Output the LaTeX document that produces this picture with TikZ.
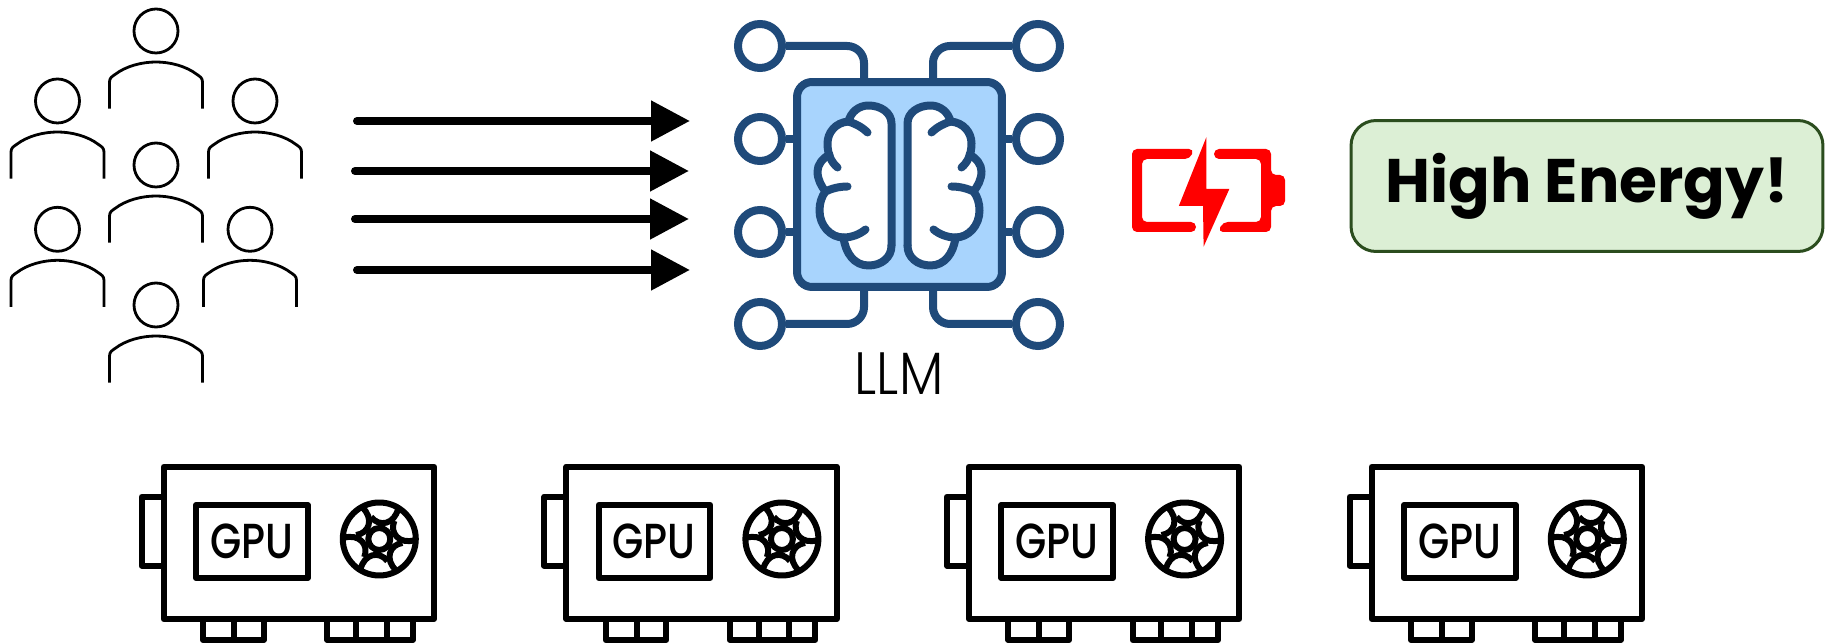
\documentclass[tikz,border=0pt]{standalone}
\usepackage{fontspec}
\setmainfont{Poppins}
\usetikzlibrary{arrows.meta, positioning, calc}
\definecolor{navy}{HTML}{1F4A7A}
\definecolor{chipblue}{HTML}{A8D4FD}
\definecolor{leaf}{HTML}{DCEFD5}
\definecolor{leafline}{HTML}{2B4D1E}
\tikzstyle{chip} = [rectangle, rounded corners=0.3cm, minimum size=4.1cm, inner sep=0, line width=0.16cm, draw=navy, fill=chipblue]
\tikzstyle{pad} = [circle, minimum size=0.88cm, inner sep=0, line width=0.16cm, draw=navy]
\tikzstyle{wire} = [line width=0.16cm, draw=navy, rounded corners=0.34cm]
\tikzstyle{brainline} = [line width=0.16cm, draw=navy, line cap=round, line join=round]
\tikzstyle{personline} = [line width=0.056cm, draw=black]
\tikzstyle{gpuline} = [line width=0.12cm, draw=black, line join=round]
\tikzstyle{request} = [line width=0.16cm, line cap=round, -{Triangle[length=0.78cm,width=0.78cm]}]
\tikzstyle{energy} = [rectangle, rounded corners=0.5cm, minimum width=9.44cm, minimum height=2.62cm, draw=leafline, fill=leaf, line width=0.06cm, font=\fontsize{35}{40}\selectfont\bfseries]
\tikzset{
    person/.pic={
        \draw[personline] (0,0) circle (22);
        \draw[personline] (-46.5,77.6) -- (-46.5,51) .. controls (-46.5,47) and (-44,45.5) .. (-41,43.5)
            .. controls (-30,35) and (-14,31) .. (0,31) .. controls (14,31) and (30,35) .. (41,43.5)
            .. controls (44,45.5) and (46.5,47) .. (46.5,51) -- (46.5,77.6);
    },
    lobe/.pic={
        \fill[white] (-8,61) -- (-8,-61) .. controls (-8,-72) and (-19,-79) .. (-31,-79)
            .. controls (-41,-79) and (-49,-72) .. (-51,-63) .. controls (-64,-62) and (-72,-52) .. (-72,-41)
            .. controls (-72,-36) and (-71,-33) .. (-70,-30) .. controls (-77,-26) and (-82,-20) .. (-82,-13)
            .. controls (-82,-5) and (-78,2) .. (-74,7) .. controls (-78,12) and (-80,19) .. (-80,26)
            .. controls (-80,41) and (-69,53) .. (-56,53) .. controls (-54,69) and (-45,81) .. (-31,81)
            .. controls (-18,81) and (-8,73) .. (-8,61) -- cycle;
        \draw[brainline] (-8,61) -- (-8,-61) .. controls (-8,-72) and (-19,-79) .. (-31,-79)
            .. controls (-41,-79) and (-49,-72) .. (-51,-63) .. controls (-64,-62) and (-72,-52) .. (-72,-41)
            .. controls (-72,-30) and (-68,-22) .. (-62,-17);
        \draw[brainline] (-32,-52) .. controls (-38,-58) and (-45,-61) .. (-51,-63);
        \draw[brainline] (-70,-30) .. controls (-77,-26) and (-82,-20) .. (-82,-13)
            .. controls (-82,-5) and (-78,2) .. (-74,7);
        \draw[brainline] (-52,2) .. controls (-60,2) and (-68,4) .. (-74,7)
            .. controls (-78,12) and (-80,19) .. (-80,26) .. controls (-80,41) and (-69,53) .. (-56,53)
            .. controls (-48,53) and (-40,50) .. (-34,45);
        \draw[brainline] (-56,53) .. controls (-54,69) and (-45,81) .. (-31,81)
            .. controls (-18,81) and (-8,73) .. (-8,61);
    },
    gpucard/.pic={
        \draw[gpuline] (0,0) rectangle (270.3,152.3);
        \draw[gpuline] (0,30) -- (-22,30) -- (-22,99) -- (0,99);
        \draw[gpuline] (32.3,38.3) rectangle (144,111.3);
        \node[inner sep=0, xscale=0.82, font=\fontsize{28}{30}\selectfont\fontspec{Poppins Medium}] (label) at (88,75) {GPU};
        % Connectors
        \draw[gpuline] (39.3,152.3) -- (39.3,173.3) -- (100,173.3) -- (100,152.3);
        \draw[gpuline] (70.3,152.3) -- (70.3,173.3);
        \draw[gpuline] (163.6,152.3) -- (163.6,173.3) -- (249,173.3) -- (249,152.3);
        \draw[gpuline] (192.3,152.3) -- (192.3,173.3);
        \draw[gpuline] (223,152.3) -- (223,173.3);
        % Fan
        \draw[gpuline] (215.6,72.3) circle (36.5);
        \draw[gpuline] (215.6,72.3) circle (11);
        \begin{scope}[shift={(215.6,72.3)}]
            \draw[gpuline, rotate=0] (36,1) .. controls (20,6) and (10,-6) .. (15,-18);
            \draw[gpuline, rotate=60] (36,1) .. controls (20,6) and (10,-6) .. (15,-18);
            \draw[gpuline, rotate=120] (36,1) .. controls (20,6) and (10,-6) .. (15,-18);
            \draw[gpuline, rotate=180] (36,1) .. controls (20,6) and (10,-6) .. (15,-18);
            \draw[gpuline, rotate=240] (36,1) .. controls (20,6) and (10,-6) .. (15,-18);
            \draw[gpuline, rotate=300] (36,1) .. controls (20,6) and (10,-6) .. (15,-18);
        \end{scope}
    }
}

\begin{document}
\begin{tikzpicture}[x=0.02cm, y=-0.02cm]
    \useasboundingbox (0,0) rectangle (1829,644);

    % Users
    \pic (userA) at (156,31) {person};
    \pic (userB) at (57.5,101) {person};
    \pic (userC) at (255,101) {person};
    \pic (userD) at (156,165) {person};
    \pic (userE) at (57.5,229.3) {person};
    \pic (userF) at (250,229.3) {person};
    \pic (userG) at (156,305) {person};

    % Requests
    \coordinate (reqA) at (357,121);
    \coordinate (reqB) at (355,171);
    \coordinate (reqC) at (355,219);
    \coordinate (reqD) at (357,270);
    \coordinate (inA) at (690,121);
    \coordinate (inB) at (689,171);
    \coordinate (inC) at (689,219);
    \coordinate (inD) at (690,270);
    \draw[request] (reqA) -- (inA);
    \draw[request] (reqB) -- (inB);
    \draw[request] (reqC) -- (inC);
    \draw[request] (reqD) -- (inD);

    % LLM chip
    \node[chip] (llm) at (899.5,184.5) {};
    \node[pad] (padA) at (760,46) {};
    \node[pad] (padB) at (760,139) {};
    \node[pad] (padC) at (760,232) {};
    \node[pad] (padD) at (760,324) {};
    \node[pad] (padE) at (1038,46) {};
    \node[pad] (padF) at (1038,139) {};
    \node[pad] (padG) at (1038,232) {};
    \node[pad] (padH) at (1038,324) {};
    \draw[wire] (padA) -| ([xshift=-0.71cm]llm.north);
    \draw[wire] (padE) -| ([xshift=0.67cm]llm.north);
    \draw[wire] (padD) -| ([xshift=-0.71cm]llm.south);
    \draw[wire] (padH) -| ([xshift=0.67cm]llm.south);
    \draw[wire] (padB) -- (padB -| llm.west);
    \draw[wire] (padC) -- (padC -| llm.west);
    \draw[wire] (padF) -- (padF -| llm.east);
    \draw[wire] (padG) -- (padG -| llm.east);
    \pic (brainL) at (899.5,184.5) {lobe};
    \pic[xscale=-1] (brainR) at (899.5,184.5) {lobe};
    \node[font=\fontsize{34}{38}\selectfont\fontspec{Poppins Light}, xscale=0.88, inner sep=0] (llmlabel) at (899,373.5) {LLM};

    % Battery
    \fill[red, rounded corners=0.1cm] (1194,149) -- (1132,149) -- (1132,232) -- (1196,232) -- (1196,222)
        -- (1142,222) -- (1142,159) -- (1190,159) -- cycle;
    \fill[red, rounded corners=0.1cm] (1214,149) -- (1271,149) -- (1271,175) -- (1285,175) -- (1285,206)
        -- (1271,206) -- (1271,232) -- (1218,232) -- (1222.8,222) -- (1261,222) -- (1261,159) -- (1214,159) -- cycle;
    \fill[red] (1206.3,137.3) -- (1178.8,206) -- (1203,206) -- (1203.6,246.7) -- (1229.3,189) -- (1206.3,189) -- cycle;

    % Result
    \node[energy] (result) at (1587,186) {High Energy!};

    % GPUs
    \pic (gpuA) at (163.7,466.7) {gpucard};
    \pic (gpuB) at (566.3,466.7) {gpucard};
    \pic (gpuC) at (969,466.7) {gpucard};
    \pic (gpuD) at (1371.7,466.7) {gpucard};
\end{tikzpicture}
\end{document}
